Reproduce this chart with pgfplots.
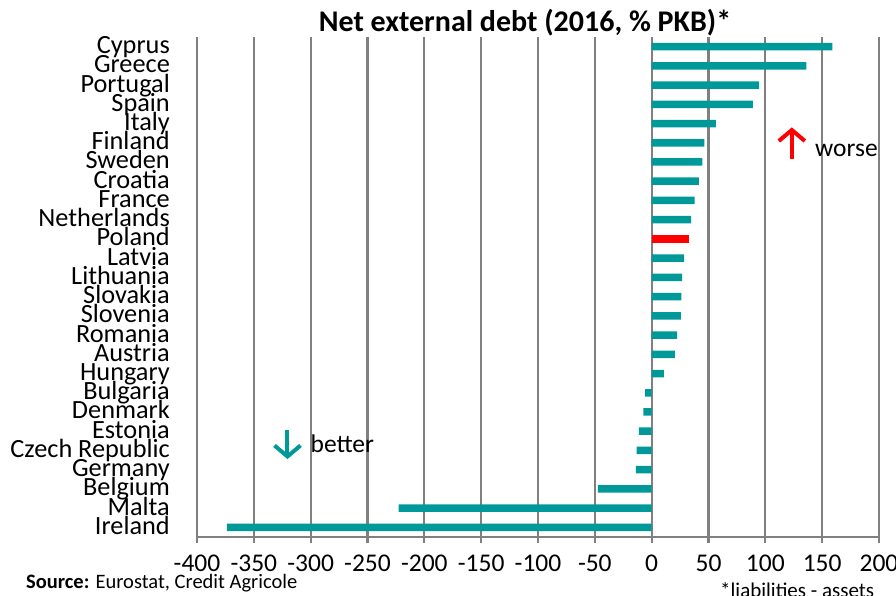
\documentclass[border=0pt]{standalone}
\usepackage{pgfplots}
\pgfplotsset{compat=1.18}
\usepackage{fontspec}
\setmainfont{Carlito}
\usetikzlibrary{arrows.meta}
\definecolor{barteal}{RGB}{0,153,153}
\definecolor{barred}{RGB}{255,0,0}
\definecolor{gridgray}{RGB}{128,128,128}
\begin{document}
\begin{tikzpicture}[x=1pt,y=1pt]
\useasboundingbox (0,0) rectangle (896,596);
\begin{axis}[
  at={(197pt,59pt)}, anchor=south west,
  width=682pt, height=500pt, scale only axis,
  xmin=-400, xmax=200, ymin=-0.5, ymax=25.5,
  xtick={-400,-350,-300,-250,-200,-150,-100,-50,0,50,100,150,200},
  xticklabels={-400,-350,-300,-250,-200,-150,-100,-50,0,50,100,150,200},
  ytick={0,...,25},
  yticklabels={Ireland,Malta,Belgium,Germany\ ,Czech Republic,Estonia,Denmark,Bulgaria,Hungary,Austria,Romania,Slovenia,Slovakia,Lithuania,Latvia,Poland,Netherlands,France,Croatia,Sweden,Finland,Italy,Spain,Portugal,Greece,Cyprus},
  axis x line*=bottom, axis y line*=left,
  axis line style={gridgray, line width=2.2pt, -},
  xmajorgrids, grid style={gridgray, line width=2.2pt},
  tick align=outside, major tick length=6pt,
  x tick style={gridgray, line width=2.2pt},
  y tick style={draw=none},
  tick label style={font=\fontsize{25.5}{26}\selectfont, inner sep=0pt},
  xticklabel style={anchor=base, yshift=-29pt},
  yticklabel style={anchor=base east, xshift=-21pt, yshift=-7pt, font=\fontsize{26.3}{26}\selectfont},
  xbar, bar width=7.5pt, bar shift=0pt,
  clip=false,
]
\addplot[fill=barteal, draw=none] coordinates {
(-373.8,0) (-222.6,1) (-47.3,2) (-13.9,3) (-13.3,4) (-11.3,5) (-7.2,6) (-5.7,7)
(10.7,8) (20.4,9) (22.4,10) (25.6,11) (26.2,12) (26.8,13) (28.6,14)
(34.7,16) (37.7,17) (41.5,18) (44.7,19) (46.4,20) (56.4,21) (89,22) (94.5,23) (136,24) (159,25)
};
\addplot[fill=barred, draw=none] coordinates {(33.0,15)};
\draw[barred, line width=4pt, -{Straight Barb[length=11pt, width=26pt, line width=4pt]}]
  (axis cs:123.3,19.15) -- (axis cs:123.3,20.8);
\node[anchor=base west, inner sep=0pt, font=\fontsize{25.5}{26}\selectfont] at (axis cs:143.7,19.30) {worse};
\draw[barteal, line width=4pt, -{Straight Barb[length=11pt, width=26pt, line width=4pt]}]
  (axis cs:-320.4,5.07) -- (axis cs:-320.4,3.55);
\node[anchor=base west, inner sep=0pt, font=\fontsize{25.5}{26}\selectfont] at (axis cs:-300.2,3.87) {better};
\end{axis}
\node[anchor=base, inner sep=0pt, font=\bfseries\fontsize{30}{30}\selectfont] at (525,564) {Net external debt (2016, \% PKB)*};
\node[anchor=base west, inner sep=0pt, font=\fontsize{20.5}{21}\selectfont] at (26,7) {\textbf{Source:} Eurostat, Credit Agricole};
\node[anchor=base west, inner sep=0pt, font=\fontsize{21}{21}\selectfont] at (720,-2) {*liabilities - assets};
\end{tikzpicture}
\end{document}
